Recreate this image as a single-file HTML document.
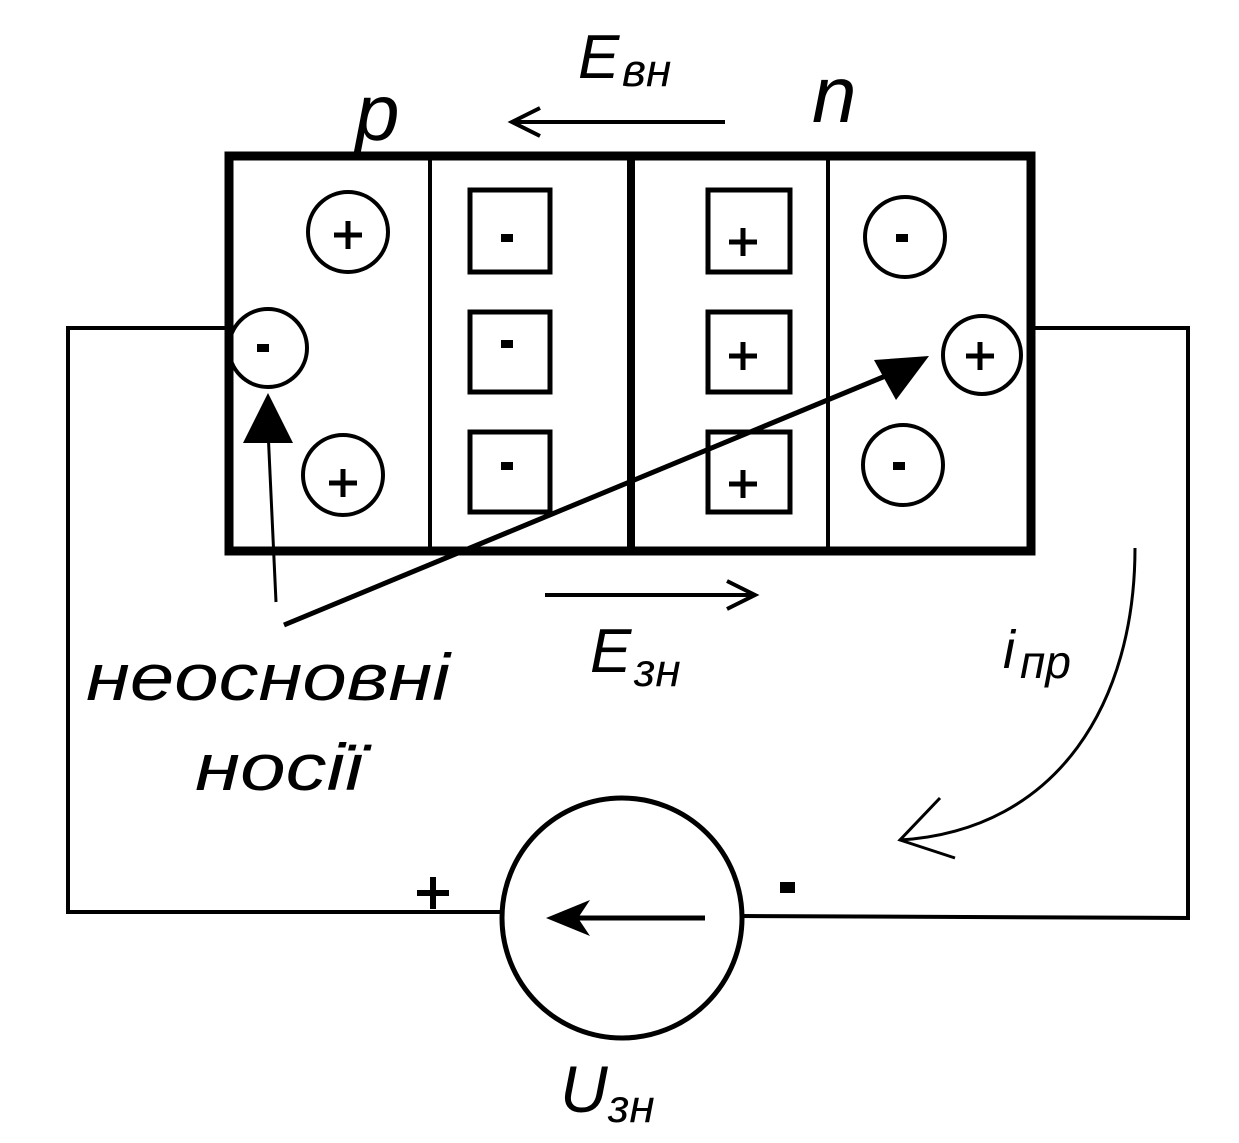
<!DOCTYPE html>
<html><head><meta charset="utf-8"><style>
html,body{margin:0;padding:0;background:#fff;}
svg{display:block;}
text{font-family:"Liberation Sans",sans-serif;font-style:italic;fill:#000;}
</style></head><body>
<svg width="1239" height="1143" viewBox="0 0 1239 1143" xmlns="http://www.w3.org/2000/svg">
<g fill="none" stroke="#000">
<rect x="229" y="156" width="802" height="395" stroke-width="9"/>
<line x1="430" y1="156" x2="430" y2="551" stroke-width="4"/>
<line x1="631" y1="156" x2="631" y2="551" stroke-width="8"/>
<line x1="828" y1="156" x2="828" y2="551" stroke-width="4"/>
<g stroke-width="5">
<rect x="470" y="190" width="80" height="82"/>
<rect x="470" y="312" width="80" height="80"/>
<rect x="470" y="432" width="80" height="80"/>
<rect x="708" y="190" width="82" height="82"/>
<rect x="708" y="312" width="82" height="80"/>
<rect x="708" y="432" width="82" height="80"/>
</g>
<g stroke-width="4">
<circle cx="348" cy="232" r="40"/>
<circle cx="268" cy="348" r="39"/>
<circle cx="343" cy="475" r="40"/>
<circle cx="905" cy="237" r="40"/>
<circle cx="982" cy="355" r="39"/>
<circle cx="903" cy="465" r="40"/>
</g>
<!-- plus signs -->
<g stroke-width="5">
<path d="M334,235 h28 M348,221 v28"/>
<path d="M329,483 h28 M343,469 v28"/>
<path d="M729,242 h28 M743,228 v28"/>
<path d="M729,356 h28 M743,342 v28"/>
<path d="M729,484 h28 M743,470 v28"/>
<path d="M966,356 h28 M980,342 v28"/>
<path d="M417,893 h32 M433,877 v32" stroke-width="6"/>
</g>
<polyline points="229,328 68,328 68,912 503,912" stroke-width="4"/>
<polyline points="742,916 1188,918 1188,328 1031,328" stroke-width="4"/>
<circle cx="622" cy="918" r="120" stroke-width="5"/>
<line x1="705" y1="918" x2="560" y2="918" stroke-width="5"/>
<line x1="725" y1="122" x2="512" y2="122" stroke-width="4"/>
<polyline points="540,108 512,122 540,136" stroke-width="4"/>
<line x1="545" y1="595" x2="755" y2="595" stroke-width="4"/>
<polyline points="727,581 755,595 727,609" stroke-width="4"/>
<line x1="284" y1="625" x2="900" y2="370" stroke-width="5"/>
<line x1="276" y1="602" x2="268" y2="430" stroke-width="3"/>
<path d="M1135,548 C1135,700 1060,830 900,840" stroke-width="3"/>
<polyline points="940,798 900,840 955,858" stroke-width="3"/>
</g>
<polygon points="929,356 874,360 896,400" fill="#000"/>
<polygon points="268,393 243,443 293,443" fill="#000"/>
<polygon points="546,918 590,900 578,918 590,936" fill="#000"/>
<g fill="#000">
<rect x="257" y="344" width="12" height="8"/>
<rect x="501" y="234" width="12" height="8"/>
<rect x="501" y="340" width="12" height="8"/>
<rect x="501" y="462" width="12" height="8"/>
<rect x="896" y="234" width="12" height="8"/>
<rect x="893" y="462" width="12" height="8"/>
<rect x="780" y="882" width="15" height="11"/>
</g>
<text x="355" y="140" font-size="80">p</text>
<text x="812" y="122" font-size="80">n</text>
<text x="578" y="78" font-size="62">E</text><text x="622" y="86" font-size="46">вн</text>
<text x="590" y="672" font-size="62">E</text><text x="634" y="686" font-size="46">зн</text>
<text x="1003" y="668" font-size="54">і</text><text x="1020" y="678" font-size="46">пр</text>
<text x="86" y="700" font-size="66" textLength="364" lengthAdjust="spacingAndGlyphs">неосновні</text>
<text x="195" y="790" font-size="66" textLength="168" lengthAdjust="spacingAndGlyphs">носії</text>
<text x="560" y="1112" font-size="66">U</text><text x="608" y="1122" font-size="46">зн</text>
</svg>
</body></html>
